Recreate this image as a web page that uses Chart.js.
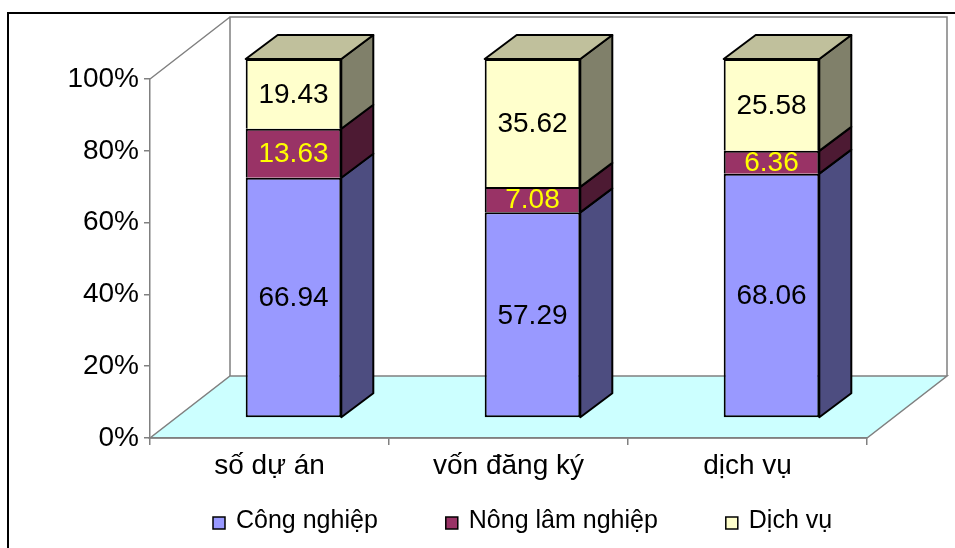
<!DOCTYPE html>
<html>
<head>
<meta charset="utf-8">
<script src="https://cdn.jsdelivr.net/npm/chart.js@4.4.1/dist/chart.umd.min.js"></script>
<style>
  body { margin: 0; background: #fff; }
  #wrap { width: 955px; height: 548px; }
</style>
</head>
<body>
<div id="wrap"><canvas id="chart" width="955" height="548"></canvas></div>
<script>
// categories and shares (%) per sector
const categories = ['số dự án', 'vốn đăng ký', 'dịch vụ'];
const congNghiep = [66.94, 57.29, 68.06];
const nongLamNghiep = [13.63, 7.08, 6.36];
const dichVu = [19.43, 35.62, 25.58];
const yTicks = [0, 20, 40, 60, 80, 100];

const FONT = "'Liberation Sans', Arial, sans-serif";

// room depth (front plane -> back wall) and bar placement inside it
const ROOM = { dx: 80, dy: -62 };
const SHIFT = { dx: 24, dy: -20 };
const DEPTH = { dx: 32, dy: -24 };

const series = [
  { label: 'Công nghiệp', data: congNghiep, front: '#9999ff', side: '#4d4d80', text: '#000000' },
  { label: 'Nông lâm nghiệp', data: nongLamNghiep, front: '#993366', side: '#4d1a33', text: '#ffff00' },
  { label: 'Dịch vụ', data: dichVu, front: '#ffffcc', side: '#80806a', top: '#c0c09c', text: '#000000' }
];

const room3d = {
  id: 'room3d',
  beforeDraw(chart) {
    const { ctx, chartArea: a } = chart;
    ctx.save();
    // outer frame
    ctx.strokeStyle = '#000';
    ctx.lineWidth = 2;
    ctx.strokeRect(8, 13, 1000, 600);

    // floor
    ctx.fillStyle = '#ccffff';
    ctx.strokeStyle = '#808080';
    ctx.lineWidth = 1.5;
    ctx.beginPath();
    ctx.moveTo(a.left, a.bottom);
    ctx.lineTo(a.right, a.bottom);
    ctx.lineTo(a.right + ROOM.dx, a.bottom + ROOM.dy);
    ctx.lineTo(a.left + ROOM.dx, a.bottom + ROOM.dy);
    ctx.closePath();
    ctx.fill();
    ctx.stroke();

    // back wall + left wall edges
    ctx.beginPath();
    ctx.moveTo(a.left + ROOM.dx, a.bottom + ROOM.dy);
    ctx.lineTo(a.left + ROOM.dx, a.top + ROOM.dy);
    ctx.lineTo(a.right + ROOM.dx, a.top + ROOM.dy);
    ctx.lineTo(a.right + ROOM.dx, a.bottom + ROOM.dy);
    ctx.moveTo(a.left, a.top);
    ctx.lineTo(a.left + ROOM.dx, a.top + ROOM.dy);
    ctx.stroke();
    ctx.restore();
  },
  beforeDatasetsDraw(chart) {
    chart.ctx.save();
    chart.ctx.translate(SHIFT.dx, SHIFT.dy);
  },
  afterDatasetsDraw(chart) {
    const ctx = chart.ctx;
    ctx.lineWidth = 2;
    ctx.strokeStyle = '#000';
    ctx.lineJoin = 'round';
    const last = chart.data.datasets.length - 1;
    chart.data.datasets.forEach((ds, di) => {
      const s = series[di];
      chart.getDatasetMeta(di).data.forEach((bar, i) => {
        const { x, y, base, width } = bar.getProps(['x', 'y', 'base', 'width'], true);
        const l = x - width / 2, r = x + width / 2;
        // side face
        ctx.fillStyle = s.side;
        ctx.beginPath();
        ctx.moveTo(r, y);
        ctx.lineTo(r + DEPTH.dx, y + DEPTH.dy);
        ctx.lineTo(r + DEPTH.dx, base + DEPTH.dy);
        ctx.lineTo(r, base);
        ctx.closePath();
        ctx.fill();
        ctx.stroke();
        // top face on the upper segment
        if (di === last) {
          ctx.fillStyle = s.top;
          ctx.beginPath();
          ctx.moveTo(l, y);
          ctx.lineTo(l + DEPTH.dx, y + DEPTH.dy);
          ctx.lineTo(r + DEPTH.dx, y + DEPTH.dy);
          ctx.lineTo(r, y);
          ctx.closePath();
          ctx.fill();
          ctx.stroke();
        }
        // value label
        ctx.fillStyle = s.text;
        ctx.font = '28px ' + FONT;
        ctx.textAlign = 'center';
        ctx.textBaseline = 'middle';
        ctx.fillText(ds.data[i].toFixed(2), x, (y + base) / 2 + 1);
      });
    });
    ctx.restore();
  },
  afterDraw(chart) {
    // legend row
    const ctx = chart.ctx;
    ctx.save();
    ctx.font = '25px ' + FONT;
    ctx.textAlign = 'left';
    ctx.textBaseline = 'alphabetic';
    let x = 213;
    series.forEach(s => {
      ctx.fillStyle = s.front;
      ctx.fillRect(x, 517, 12, 12);
      ctx.strokeStyle = '#000';
      ctx.lineWidth = 1.5;
      ctx.strokeRect(x, 517, 12, 12);
      ctx.fillStyle = '#000';
      ctx.fillText(s.label, x + 23, 528);
      x += 23 + ctx.measureText(s.label).width + 68;
    });
    ctx.restore();
  }
};

new Chart(document.getElementById('chart'), {
  type: 'bar',
  data: {
    labels: categories,
    datasets: series.map((s, di) => ({
      label: s.label,
      data: s.data,
      backgroundColor: s.front,
      borderColor: '#000',
      // segments share one edge where they meet
      borderWidth: { top: 2, left: 2, right: 2, bottom: di === 0 ? 2 : 0 },
      borderSkipped: false,
      barPercentage: 0.4,
      categoryPercentage: 1,
      clip: false
    }))
  },
  options: {
    responsive: false,
    animation: false,
    layout: { padding: { top: 79, right: 88, left: 0, bottom: 0 } },
    plugins: { legend: { display: false }, tooltip: { enabled: false } },
    scales: {
      x: {
        stacked: true,
        afterFit: s => { s.height = 110; },
        border: { color: '#808080', width: 1.5 },
        grid: { offset: true, drawOnChartArea: false, color: '#808080', tickLength: 7, lineWidth: 1.5 },
        ticks: { color: '#000', font: { size: 28, family: FONT }, padding: 4 }
      },
      y: {
        stacked: true,
        min: 0,
        max: 100,
        afterFit: s => { s.width = 150; },
        afterBuildTicks: s => { s.ticks = yTicks.map(v => ({ value: v })); },
        border: { color: '#808080', width: 1.5 },
        grid: { drawOnChartArea: false, color: '#808080', tickLength: 6, lineWidth: 1.5 },
        ticks: { color: '#000', font: { size: 28, family: FONT }, padding: 5, callback: v => v + '%' }
      }
    }
  },
  plugins: [room3d]
});
</script>
</body>
</html>
